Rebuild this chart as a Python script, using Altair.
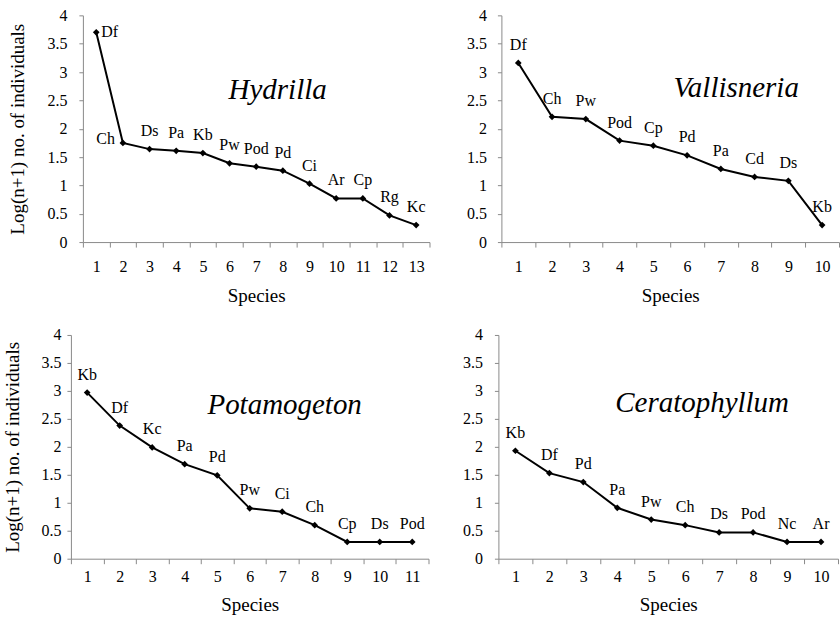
import altair as alt
import pandas as pd

# ---- data ----
hyd_species = ["Df", "Ch", "Ds", "Pa", "Kb", "Pw", "Pod", "Pd", "Ci", "Ar", "Cp", "Rg", "Kc"]
hyd_values = [3.70, 1.75, 1.64, 1.61, 1.57, 1.39, 1.33, 1.26, 1.03, 0.77, 0.77, 0.47, 0.30]

val_species = ["Df", "Ch", "Pw", "Pod", "Cp", "Pd", "Pa", "Cd", "Ds", "Kb"]
val_values = [3.16, 2.21, 2.17, 1.79, 1.70, 1.53, 1.29, 1.15, 1.08, 0.30]

pot_species = ["Kb", "Df", "Kc", "Pa", "Pd", "Pw", "Ci", "Ch", "Cp", "Ds", "Pod"]
pot_values = [2.97, 2.38, 1.99, 1.69, 1.49, 0.90, 0.84, 0.60, 0.30, 0.30, 0.30]

cer_species = ["Kb", "Df", "Pd", "Pa", "Pw", "Ch", "Ds", "Pod", "Nc", "Ar"]
cer_values = [1.93, 1.53, 1.37, 0.91, 0.70, 0.60, 0.47, 0.47, 0.30, 0.30]

y_ticks = [0, 0.5, 1, 1.5, 2, 2.5, 3, 3.5, 4]
Y_TITLE = "Log(n+1) no. of individuals"
X_TITLE = "Species"

FONT = "'Liberation Serif', 'Times New Roman', Times, 'DejaVu Serif', serif"
AXIS_GRAY = "#8a8a8a"


def panel(species, values, name, width, height, title_pos, y_title,
          y_label_pad, y_title_pad, x_label_pad, x_title_pad,
          inset=0, exceptions=None):
    exceptions = exceptions or {}
    df = pd.DataFrame({
        "rank": list(range(1, len(species) + 1)),
        "species": species,
        "value": values,
    })
    base = alt.Chart(df)
    xscale = dict(type="band", paddingInner=0, paddingOuter=0)
    if inset:
        xscale["range"] = [inset, width]
    x = alt.X(
        "rank:O",
        scale=alt.Scale(**xscale),
        axis=alt.Axis(
            title=X_TITLE, tickBand="extent", labelAngle=0,
            labelPadding=x_label_pad, tickSize=5, titlePadding=x_title_pad,
        ),
    )
    y_axis_kwargs = dict(
        values=y_ticks, format="~g", labelPadding=y_label_pad, tickSize=4,
    )
    if inset:
        y_axis_kwargs["offset"] = -inset
    if y_title:
        y_axis_kwargs["title"] = y_title
        y_axis_kwargs["titlePadding"] = y_title_pad
    else:
        y_axis_kwargs["title"] = None
    y = alt.Y("value:Q", scale=alt.Scale(domain=[0, 4], nice=False),
              axis=alt.Axis(**y_axis_kwargs))

    line = base.mark_line(color="black", strokeWidth=2).encode(x=x, y=y)
    pts = base.mark_point(shape="diamond", filled=True, color="black",
                          size=45, opacity=1).encode(x=x, y=y)

    special = list(exceptions.keys())
    normal = base.transform_filter(
        ~alt.FieldOneOfPredicate(field="rank", oneOf=special) if special
        else alt.datum.rank > 0
    ).mark_text(font=FONT, fontSize=16, dy=-18, color="black").encode(
        x=x, y=y, text="species:N")
    layers = [line, pts, normal]
    for rank, opts in exceptions.items():
        layers.append(
            base.transform_filter(alt.datum.rank == rank)
            .mark_text(font=FONT, fontSize=16, color="black", **opts)
            .encode(x=x, y=y, text="species:N")
        )
    tdf = pd.DataFrame({"t": [name]})
    title = alt.Chart(tdf).mark_text(
        font=FONT, fontSize=29, fontStyle="italic", color="black"
    ).encode(x=alt.value(title_pos[0]), y=alt.value(title_pos[1]), text="t:N")
    layers.append(title)
    return alt.layer(*layers).properties(width=width, height=height)


p1 = panel(hyd_species, hyd_values, "Hydrilla", 359, 227, (207, 75), Y_TITLE,
           12, 19, 11, 12, inset=12,
           exceptions={1: dict(align="left", dx=5, dy=0),
                       2: dict(align="right", dx=-8, dy=-4)})
p2 = panel(val_species, val_values, "Vallisneria", 338, 227, (235, 73), None,
           11, 0, 11, 12)
p3 = panel(pot_species, pot_values, "Potamogeton", 358, 224, (214, 70), Y_TITLE,
           6, 18, 5, 11)
p4 = panel(cer_species, cer_values, "Ceratophyllum", 340, 224, (204, 68), None,
           12, 0, 5, 11)

row1 = alt.hconcat(p1, p2, spacing=72, bounds="flush")
row2 = alt.hconcat(p3, p4, spacing=70, bounds="flush")

chart = alt.vconcat(row1, row2, spacing=22).properties(
    padding={"left": 4, "top": 7, "right": 0, "bottom": 0},
    background="white",
).configure_view(stroke=None).configure_axis(
    grid=False,
    domainColor=AXIS_GRAY,
    tickColor=AXIS_GRAY,
    labelColor="black",
    titleColor="black",
    labelFont=FONT,
    titleFont=FONT,
    labelFontSize=16,
    titleFontSize=19,
    titleFontWeight="normal",
    domainWidth=1,
)

chart.save("out.html", embed_options={"renderer": "svg", "actions": False})
